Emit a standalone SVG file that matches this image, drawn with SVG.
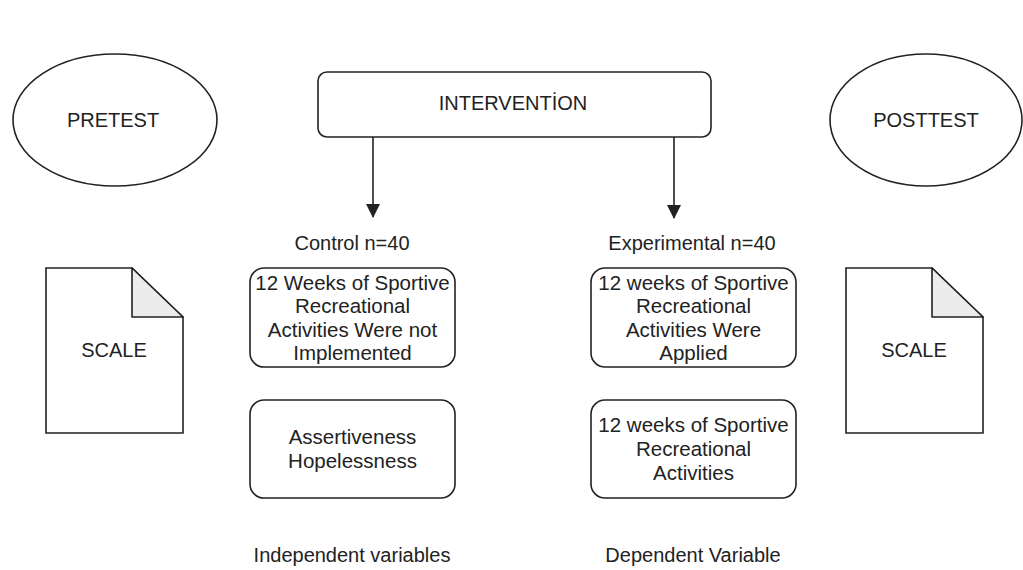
<svg xmlns="http://www.w3.org/2000/svg" width="1023" height="570" viewBox="0 0 1023 570">
<defs>
<style>
.s{fill:#ffffff;stroke:#222;stroke-width:1.6}
.f{fill:#ececec;stroke:#222;stroke-width:1.6;stroke-linejoin:round}
.t{font-family:"Liberation Sans",Arial,sans-serif;font-size:20px;fill:#222;text-anchor:middle}
.b{font-size:20.5px}
.c{stroke:#222;stroke-width:1.6;fill:none}
</style>
<marker id="ah" markerWidth="14" markerHeight="16" refX="13" refY="7" orient="auto" markerUnits="userSpaceOnUse">
<path d="M0,0 L14,7 L0,14 Z" fill="#222"/>
</marker>
</defs>
<rect width="1023" height="570" fill="#ffffff"/>
<g id="pretest">
<ellipse class="s" cx="115" cy="120" rx="102" ry="66"/>
<text class="t" x="113" y="127">PRETEST</text>
</g>
<g id="intervention">
<rect class="s" x="318" y="72" width="393" height="65" rx="9"/>
<text class="t" x="513" y="110">INTERVENTİON</text>
</g>
<g id="posttest">
<ellipse class="s" cx="926" cy="120" rx="96" ry="66"/>
<text class="t" x="926" y="127">POSTTEST</text>
</g>
<g id="connectors">
<line class="c" x1="373" y1="137" x2="373" y2="217" marker-end="url(#ah)"/>
<line class="c" x1="674" y1="137" x2="674" y2="218" marker-end="url(#ah)"/>
</g>
<g id="control-label">
<text class="t" x="352" y="250">Control n=40</text>
</g>
<g id="experimental-label">
<text class="t" x="692" y="250">Experimental n=40</text>
</g>
<g id="scale-left">
<path class="s" d="M46,268 L132,268 L183,317 L183,433 L46,433 Z"/>
<path class="f" d="M132,268 L132,317 L183,317 Z"/>
<text class="t" x="114" y="357">SCALE</text>
</g>
<g id="scale-right">
<path class="s" d="M846,268 L932,268 L983,317 L983,433 L846,433 Z"/>
<path class="f" d="M932,268 L932,317 L983,317 Z"/>
<text class="t" x="914" y="357">SCALE</text>
</g>
<g id="control-box">
<rect class="s" x="250" y="268" width="205" height="99" rx="14"/>
<text class="t b" x="352.5" y="290">12 Weeks of Sportive</text>
<text class="t b" x="352.5" y="313">Recreational</text>
<text class="t b" x="352.5" y="337">Activities Were not</text>
<text class="t b" x="352.5" y="360">Implemented</text>
</g>
<g id="experimental-box">
<rect class="s" x="591" y="268" width="205" height="99" rx="14"/>
<text class="t b" x="693.5" y="290">12 weeks of Sportive</text>
<text class="t b" x="693.5" y="313">Recreational</text>
<text class="t b" x="693.5" y="337">Activities Were</text>
<text class="t b" x="693.5" y="360">Applied</text>
</g>
<g id="control-variables-box">
<rect class="s" x="250" y="400" width="205" height="98" rx="14"/>
<text class="t b" x="352.5" y="444">Assertiveness</text>
<text class="t b" x="352.5" y="468">Hopelessness</text>
</g>
<g id="experimental-variables-box">
<rect class="s" x="591" y="400" width="205" height="98" rx="14"/>
<text class="t b" x="693.5" y="432">12 weeks of Sportive</text>
<text class="t b" x="693.5" y="456">Recreational</text>
<text class="t b" x="693.5" y="480">Activities</text>
</g>
<g id="independent-label">
<text class="t" x="352" y="562">Independent variables</text>
</g>
<g id="dependent-label">
<text class="t" x="693" y="562">Dependent Variable</text>
</g>
</svg>
